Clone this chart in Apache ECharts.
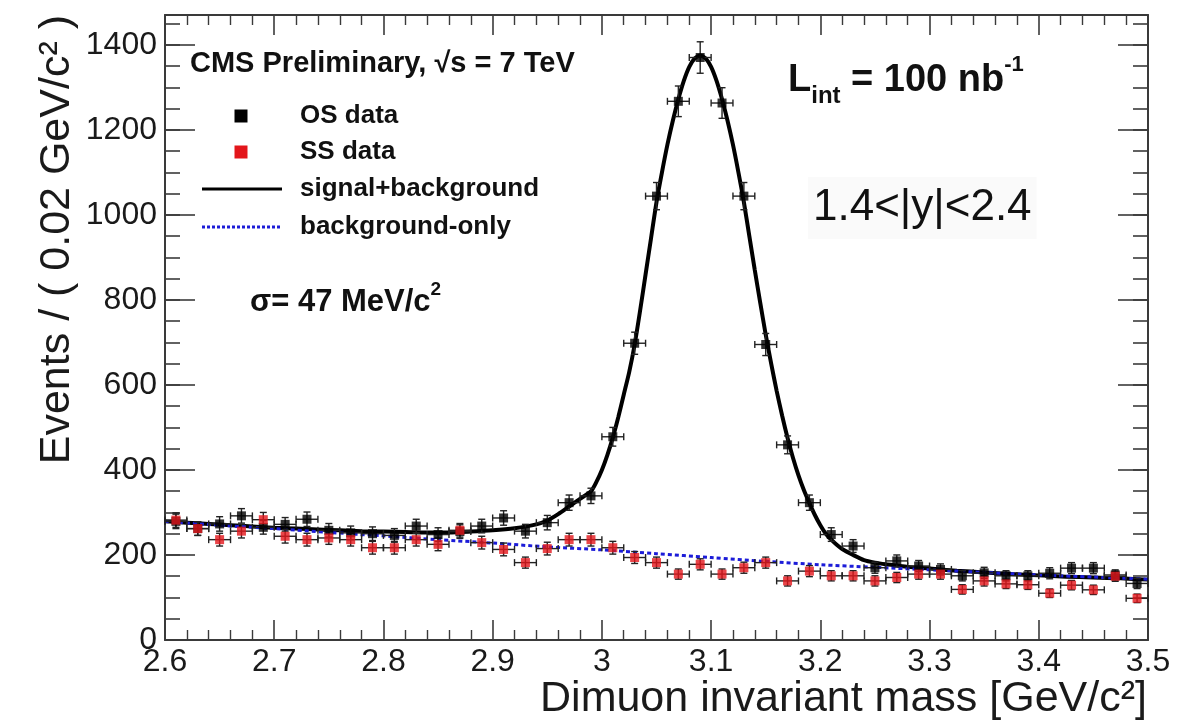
<!DOCTYPE html>
<html><head><meta charset="utf-8">
<script src="https://cdn.jsdelivr.net/npm/echarts@6/dist/echarts.min.js"></script>
<style>html,body{margin:0;padding:0;background:#fff}#c{width:1195px;height:728px}</style>
</head><body><div id="c"></div>
<script>
// ---- data ----
const massBins = [2.61,2.63,2.65,2.67,2.69,2.71,2.73,2.75,2.77,2.79,2.81,2.83,2.85,2.87,2.89,2.91,2.93,2.95,2.97,2.99,
  3.01,3.03,3.05,3.07,3.09,3.11,3.13,3.15,3.17,3.19,3.21,3.23,3.25,3.27,3.29,3.31,3.33,3.35,3.37,3.39,3.41,3.43,3.45,3.47,3.49];
const osCounts = [279,262,273,292,265,272,284,258,252,250,246,268,248,255,268,287,256,276,323,339,
  478,698,1044,1267,1370,1263,1044,695,459,323,248,221,170,186,174,166,151,158,151,151,157,169,169,153,133];
const osErrors = [17,16,17,17,16,16,17,16,16,16,16,16,16,16,16,17,16,17,18,18,
  22,26,32,36,37,36,32,26,21,18,16,15,13,14,13,13,12,13,12,12,13,13,13,12,12];
const ssCounts = [282,262,236,256,283,244,236,240,236,217,217,236,225,258,229,213,182,215,236,236,
  217,194,182,155,178,155,170,182,139,162,151,151,139,147,155,155,119,139,132,130,110,129,118,150,98];
const ssErrors = [17,16,15,16,17,16,15,15,15,15,15,15,15,16,15,15,13,15,15,15,
  15,14,13,12,13,12,13,13,12,13,12,12,12,12,12,12,11,12,11,11,10,11,11,12,10];
const binHalfWidth = 0.01;

const fitMass = [2.60,2.62,2.64,2.66,2.68,2.70,2.72,2.74,2.76,2.78,2.80,2.82,2.84,2.86,2.88,2.90,2.92,2.94,2.95,2.96,2.97,2.98,2.99,
  2.995,3.00,3.005,3.01,3.015,3.02,3.025,3.03,3.035,3.04,3.045,3.05,3.055,3.06,3.065,3.07,3.075,3.08,3.085,3.09,
  3.095,3.10,3.105,3.11,3.115,3.12,3.125,3.13,3.135,3.14,3.145,3.15,3.155,3.16,3.165,3.17,3.175,3.18,3.185,3.19,
  3.195,3.20,3.205,3.21,3.215,3.22,3.23,3.24,3.25,3.26,3.27,3.28,3.30,3.325,3.35,3.375,3.40,3.425,3.45,3.475,3.50];
const fitSignalBkg = [279,276,273,270,267,264,262,260,258,256,255,254,253,253,255,258,263,272,281,296,314,332,350,
  372,400,435,476,524,577,630,695,775,860,945,1030,1100,1165,1222,1272,1315,1348,1368,1375,
  1368,1348,1315,1272,1222,1165,1100,1030,950,870,793,718,650,586,528,475,428,387,352,322,
  294,270,250,236,224,214,200,188,182,178,175,172,168,163,159,155,152,149,147,145,142];

const bkgMass = [2.60,2.65,2.70,2.75,2.80,2.85,2.90,2.95,3.00,3.05,3.10,3.15,3.20,3.25,3.30,3.35,3.40,3.45,3.50];
const bkgOnly = [279,270,262,253,245,236,228,219,212,203,194,185,177,171,165,159,153,148,143];

const legendLabels = ['OS data', 'SS data', 'signal+background', 'background-only'];
const xTitle = 'Dimuon invariant mass [GeV/c²]';
const yTitle = 'Events / ( 0.02 GeV/c² )';

const FONT = '"Liberation Sans", Arial, Helvetica, sans-serif';
const frameColor = '#3a3a3a';
const osColor = '#000000', ssColor = '#e3161b', fitColor = '#000000', bkgColor = '#1c1cd8';

const chart = echarts.init(document.getElementById('c'), null, {renderer: 'canvas'});

function errorBars(params, api) {
  const x = api.value(0), y = api.value(1), e = api.value(2);
  const pL = api.coord([x - binHalfWidth, y]);
  const pR = api.coord([x + binHalfWidth, y]);
  const pT = api.coord([x, y + e]);
  const pB = api.coord([x, y - e]);
  const c = 3.5;
  const st = {stroke: '#222', lineWidth: 1.4, fill: null};
  const ln = (x1, y1, x2, y2) => ({type: 'line', shape: {x1, y1, x2, y2}, style: st});
  return {type: 'group', children: [
    ln(pL[0], pL[1], pR[0], pR[1]),
    ln(pT[0], pT[1], pB[0], pB[1]),
    ln(pL[0], pL[1] - c, pL[0], pL[1] + c),
    ln(pR[0], pR[1] - c, pR[0], pR[1] + c),
    ln(pT[0] - c, pT[1], pT[0] + c, pT[1]),
    ln(pB[0] - c, pB[1], pB[0] + c, pB[1])
  ]};
}

const axisLineStyle = {color: frameColor, width: 2};
function xAx(pos, labels) {
  return {
    type: 'value', position: pos, min: 2.6, max: 3.5, interval: 0.1,
    axisLine: {show: true, onZero: false, lineStyle: axisLineStyle},
    axisTick: {show: true, inside: true, length: 20, lineStyle: {color: frameColor, width: 1.6}},
    minorTick: {show: true, splitNumber: 5, length: 10, lineStyle: {color: frameColor, width: 1.4}},
    axisLabel: {show: labels, fontFamily: FONT, fontSize: 32, color: '#1a1a1a', margin: 6},
    splitLine: {show: false}, minorSplitLine: {show: false}
  };
}
function yAx(pos, interval, len, labels, line) {
  return {
    type: 'value', position: pos, min: 0, max: 1470, interval: interval,
    axisLine: {show: line, onZero: false, lineStyle: axisLineStyle},
    axisTick: {show: true, inside: true, length: len, lineStyle: {color: frameColor, width: 1.6}},
    axisLabel: {show: labels, fontFamily: FONT, fontSize: 32, color: '#1a1a1a', margin: 8, showMaxLabel: false,
      formatter: v => String(v)},
    splitLine: {show: false}
  };
}

const yMain = yAx('left', 200, 30, true, true);
yMain.name = yTitle;
yMain.nameLocation = 'end';
yMain.nameRotate = 90;
yMain.nameGap = 0;
yMain.nameTextStyle = {fontFamily: FONT, fontSize: 43, color: '#1a1a1a', align: 'right', verticalAlign: 'bottom', padding: [0, 0, 86, 0]};

// legend drawn as graphic elements (ROOT-style TLegend)
const legRowY = [116, 152, 189, 227];
const legTextStyle = {font: 'bold 26px ' + FONT, fill: '#111', verticalAlign: 'middle', align: 'left'};
const legendGraphics = [
  {type: 'rect', shape: {x: 234.5, y: legRowY[0] - 6.5, width: 13, height: 13}, style: {fill: osColor}},
  {type: 'rect', shape: {x: 234.5, y: legRowY[1] - 6.5, width: 13, height: 13}, style: {fill: ssColor}},
  {type: 'line', shape: {x1: 202, y1: legRowY[2], x2: 282, y2: legRowY[2]}, style: {stroke: fitColor, lineWidth: 3}},
  {type: 'line', shape: {x1: 202, y1: legRowY[3], x2: 282, y2: legRowY[3]}, style: {stroke: bkgColor, lineWidth: 3, lineDash: [3, 2]}}
].concat(legendLabels.map((t, i) => ({type: 'text', x: 300, y: legRowY[i], style: Object.assign({text: t}, legTextStyle)})));

const option = {
  animation: false,
  backgroundColor: '#ffffff',
  grid: {left: 165, right: 47, top: 15, bottom: 88, containLabel: false, outerBoundsMode: 'none'},
  xAxis: [xAx('bottom', true), xAx('top', false)],
  yAxis: [yMain, yAx('left', 50, 15, false, false), yAx('right', 200, 30, false, true), yAx('right', 50, 15, false, false)],
  graphic: legendGraphics.concat([
    {type: 'text', x: 1147, y: 699, style: {text: xTitle, font: '43px ' + FONT, fill: '#1a1a1a', align: 'right', verticalAlign: 'middle'}},
    {type: 'text', left: 190, top: 49, style: {text: 'CMS Preliminary, √s = 7 TeV', font: 'bold 29px ' + FONT, fill: '#111'}},
    {type: 'text', left: 788, top: 54, style: {
      text: '{L|L}{sub|int}{m| = 100 nb}{sup|-1}',
      rich: {
        L: {font: 'bold 38px ' + FONT, fill: '#111', verticalAlign: 'bottom', lineHeight: 46},
        sub: {font: 'bold 24px ' + FONT, fill: '#111', verticalAlign: 'bottom', lineHeight: 30, padding: [0, 0, -8, 0]},
        m: {font: 'bold 38px ' + FONT, fill: '#111', verticalAlign: 'bottom', lineHeight: 46},
        sup: {font: 'bold 22px ' + FONT, fill: '#111', verticalAlign: 'top', lineHeight: 30}
      }}},
    {type: 'text', left: 808, top: 177, style: {
      text: '1.4<|y|<2.4', font: '44px ' + FONT, fill: '#111',
      backgroundColor: '#fafafa', padding: [9, 5, 9, 5]}},
    {type: 'text', left: 250, top: 280, style: {
      text: '{a|σ= 47 MeV/c}{s|2}',
      rich: {
        a: {font: 'bold 31px ' + FONT, fill: '#111', verticalAlign: 'bottom', lineHeight: 38},
        s: {font: 'bold 19px ' + FONT, fill: '#111', verticalAlign: 'top', lineHeight: 38}
      }}}
  ]),
  series: [
    {name: 'signal+background', type: 'line', xAxisIndex: 0, yAxisIndex: 0, symbol: 'none', showSymbol: false, smooth: 0.25,
      data: fitMass.map((m, i) => [m, fitSignalBkg[i]]),
      lineStyle: {color: fitColor, width: 4}, itemStyle: {color: fitColor}, z: 2},
    {name: 'background-only', type: 'line', xAxisIndex: 0, yAxisIndex: 0, symbol: 'none', showSymbol: false, smooth: 0.3,
      data: bkgMass.map((m, i) => [m, bkgOnly[i]]),
      lineStyle: {color: bkgColor, width: 3, type: [4, 3]}, itemStyle: {color: bkgColor}, z: 3},
    {name: 'OS errors', type: 'custom', xAxisIndex: 0, yAxisIndex: 0, renderItem: errorBars,
      data: massBins.map((m, i) => [m, osCounts[i], osErrors[i]]), z: 4},
    {name: 'SS errors', type: 'custom', xAxisIndex: 0, yAxisIndex: 0, renderItem: errorBars,
      data: massBins.map((m, i) => [m, ssCounts[i], ssErrors[i]]), z: 4},
    {name: 'OS data', type: 'scatter', xAxisIndex: 0, yAxisIndex: 0, symbol: 'rect', symbolSize: 9,
      data: massBins.map((m, i) => [m, osCounts[i]]), itemStyle: {color: osColor}, z: 5},
    {name: 'SS data', type: 'scatter', xAxisIndex: 0, yAxisIndex: 0, symbol: 'rect', symbolSize: 9,
      data: massBins.map((m, i) => [m, ssCounts[i]]), itemStyle: {color: ssColor}, z: 6}
  ]
};
chart.setOption(option);
</script>
</body></html>
